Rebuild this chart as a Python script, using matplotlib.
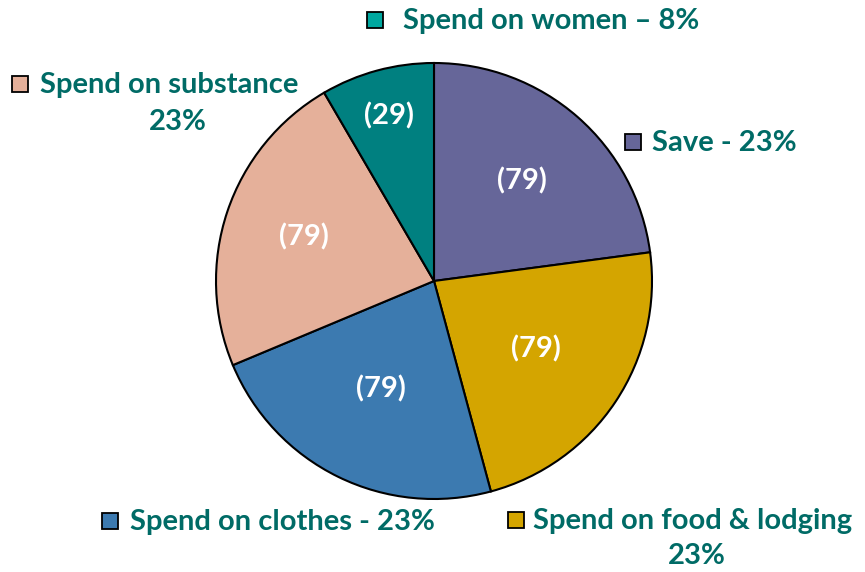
import numpy as np
import matplotlib.pyplot as plt

plt.rcParams['font.family'] = ['Lato', 'DejaVu Sans']

values = [79, 79, 79, 79, 29]
inner_labels = ['(79)', '(79)', '(79)', '(79)', '(29)']
slice_colors = ['#666699', '#D4A500', '#3C7AB0', '#E5B09A', '#008080']
outer_texts = ['Save - 23%', 'Spend on food & lodging', 'Spend on clothes - 23%',
               'Spend on substance', 'Spend on women \u2013 8%']
second_lines = ['', '23%', '', '23%', '']
marker_colors = ['#666699', '#D4A500', '#3C7AB0', '#E5B09A', '#00A8A0']

W, H = 865, 572
cx, cy, R = 434, H - 281, 218
fig = plt.figure(figsize=(8.65, 5.72), dpi=100)
ax = fig.add_axes([0, 0, 1, 1])

wedges, _ = ax.pie(values, colors=slice_colors, startangle=90, counterclock=False,
                   center=(cx, cy), radius=R, frame=True,
                   wedgeprops=dict(edgecolor='black', linewidth=1.5))
ax.set_xlim(0, W)
ax.set_ylim(0, H)
ax.set_aspect('equal')
ax.axis('off')

# value labels inside slices, distance as fraction of radius
label_dist = [0.61, 0.56, 0.55, 0.63, 0.785]
for w, lab, d in zip(wedges, inner_labels, label_dist):
    ang = np.deg2rad((w.theta1 + w.theta2) / 2)
    ax.text(cx + d * R * np.cos(ang), cy + d * R * np.sin(ang), lab, color='white',
            fontsize=21, fontweight='bold', ha='center', va='center')

# label anchors: marker x, text x, y (pixels from top), x of second line centre, y of second line
pos = [(633, 652, 143, None, None),
       (516, 533, 521, 697, 556),
       (110, 130, 522, None, None),
       (20, 40, 85, 178, 122),
       (375, 403, 21, None, None)]
tcol = '#006B66'
for i, (mx, tx, ty, sx, sy) in enumerate(pos):
    ax.plot(mx, H - ty + 1, marker='s', markersize=11, markerfacecolor=marker_colors[i],
            markeredgecolor='black', markeredgewidth=1.3)
    ax.text(tx, H - ty, outer_texts[i], color=tcol, fontsize=21, fontweight='bold',
            ha='left', va='center')
    if second_lines[i]:
        ax.text(sx, H - sy, second_lines[i], color=tcol, fontsize=21, fontweight='bold',
                ha='center', va='center')

fig.savefig('out.png', dpi=100)
